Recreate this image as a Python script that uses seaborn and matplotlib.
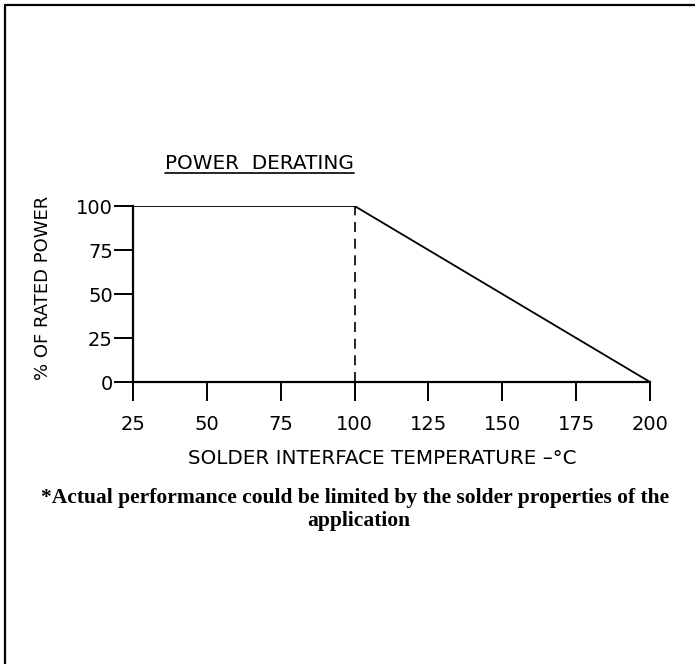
import pandas as pd
import seaborn as sns
import matplotlib.pyplot as plt
from matplotlib.lines import Line2D

temps = [25, 100, 200]
power = [100, 100, 0]
knee_x = [100, 100]
knee_y = [0, 100]
x_ticks = [25, 50, 75, 100, 125, 150, 175, 200]
y_ticks = [0, 25, 50, 75, 100]

sns.set_style("ticks")
plt.rcParams['font.family'] = ['DejaVu Sans']
plt.rcParams['text.color'] = 'black'
plt.rcParams['axes.labelcolor'] = 'black'

fig = plt.figure(figsize=(6.95, 6.64), dpi=100)
ax = fig.add_axes([133 / 695, 282 / 664, 517 / 695, 176 / 664])

df = pd.DataFrame({"Temperature": temps, "Power": power})
sns.lineplot(x="Temperature", y="Power", data=df, ax=ax, color="black",
             lw=1.3, estimator=None, sort=False)
sns.lineplot(x=knee_x, y=knee_y, ax=ax, color="black", lw=1.2,
             estimator=None, sort=False, linestyle=(0, (6, 4)))

ax.set_xlim(25, 200)
ax.set_ylim(0, 100)
ax.set_xticks(x_ticks)
ax.set_yticks(y_ticks)
ax.tick_params(direction="out", length=13.5, width=1.4, colors="black",
               labelsize=14)
ax.tick_params(axis="y", pad=1)
ax.tick_params(axis="x", pad=10)
for s in ["left", "bottom"]:
    ax.spines[s].set_linewidth(1.6)
    ax.spines[s].set_color("black")
sns.despine(ax=ax)

ax.set_xlabel("SOLDER INTERFACE TEMPERATURE \u2013\u00b0C", fontsize=14.3)
ax.xaxis.label.set_va("center")
ax.xaxis.set_label_coords(0.482, -0.432)
ax.set_ylabel("% OF RATED POWER", fontsize=13)
ax.yaxis.label.set_va("center")
ax.yaxis.label.set_ha("center")
ax.yaxis.set_label_coords(-0.174, 0.534)

title = fig.text(165 / 695, (664 - 169) / 664, "POWER  DERATING", fontsize=14.4,
                 ha="left", va="baseline")

fig.text(355 / 695, (664 - 503) / 664,
         "*Actual performance could be limited by the solder properties of the",
         fontsize=15.5, fontweight="bold", family="Liberation Serif",
         ha="center", va="baseline")
fig.text(359 / 695, (664 - 526) / 664, "application",
         fontsize=15.5, fontweight="bold", family="Liberation Serif",
         ha="center", va="baseline")

# underline the title
fig.canvas.draw()
bb = title.get_window_extent().transformed(fig.transFigure.inverted())
uy = (664 - 172.5) / 664
fig.add_artist(Line2D([bb.x0, bb.x1], [uy, uy], color="black", lw=1.2,
                      transform=fig.transFigure))

# page frame (top and left edges only)
top = (664 - 5) / 664
left = 5 / 695
fig.add_artist(Line2D([left, 1.0], [top, top], color="black", lw=1.6,
                      transform=fig.transFigure))
fig.add_artist(Line2D([left, left], [0.0, top], color="black", lw=1.6,
                      transform=fig.transFigure))

fig.savefig("out.png", dpi=100)
